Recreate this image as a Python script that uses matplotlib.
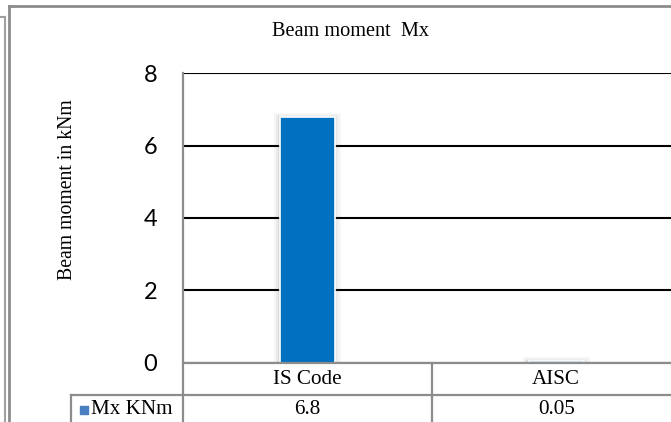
import numpy as np
import matplotlib
matplotlib.use("Agg")
import matplotlib.pyplot as plt
from matplotlib.lines import Line2D
from matplotlib.transforms import blended_transform_factory

# data
categories = ["IS Code", "AISC"]
mx_values = [6.8, 0.05]
series_name = "Mx KNm"
value_labels = ["6.8", "0.05"]
y_ticks = [0, 2, 4, 6, 8]

W, H = 671, 422
fig = plt.figure(figsize=(W / 100, H / 100), dpi=100)
fig.patch.set_facecolor("white")

def fx(px):
    return px / W

def fy(py):
    return 1 - py / H

gray = "#8c8c8c"

# plot area (runs off the right edge like the original)
ax = fig.add_axes([fx(182.7), fy(362.7), (680.7 - 182.7) / W, (362.7 - 73.3) / H])
ax.set_facecolor("none")
x = np.arange(len(categories))

# soft shadow under the bars
for grow, a in [(0.05, 0.05), (0.03, 0.08), (0.015, 0.12)]:
    ax.bar(x, np.array(mx_values) + grow * 2, width=0.22 + grow, color="#606060",
           alpha=a, linewidth=0, zorder=2)
ax.bar(x, mx_values, width=0.22, color="#0070C0", edgecolor="white",
       linewidth=1.2, zorder=3)

ax.set_xlim(-0.5, len(categories) - 0.5)
ax.set_ylim(0, 8)
ax.set_yticks(y_ticks)
ax.set_yticklabels([str(t) for t in y_ticks], fontfamily="Lato", fontsize=17)
ax.tick_params(axis="y", length=0, pad=18.5)
ax.set_xticks([])
for s in ax.spines.values():
    s.set_visible(False)
ax.yaxis.grid(True, color="black", linewidth=1.5)
ax.set_axisbelow(True)

# title and y label
fig.text(fx(351), fy(32), "Beam moment  Mx", ha="center", va="center",
         fontfamily="Liberation Serif", fontsize=14.6)
fig.text(fx(67), fy(190), "Beam moment in kNm", ha="center", va="center",
         rotation=90, fontfamily="Liberation Serif", fontsize=14.2)

# data table below the axis
tr = blended_transform_factory(ax.transData, fig.transFigure)
for i, cat in enumerate(categories):
    fig.text(x[i], fy(379), cat, transform=tr, ha="center",
             va="center", fontfamily="Liberation Serif", fontsize=15.2)
    fig.text(x[i], fy(410), value_labels[i], transform=tr,
             ha="center", va="center", fontfamily="Liberation Serif",
             fontsize=15.2)
fig.text(fx(91), fy(410), series_name, ha="left", va="center",
         fontfamily="Liberation Serif", fontsize=15.2)
fig.patches.append(plt.Rectangle((fx(80), fy(414)), 8 / W, 8 / H,
                                 transform=fig.transFigure, color="#4a7fc1",
                                 figure=fig))

def hline(y, x0, x1, lw=1.6, c=gray):
    fig.add_artist(Line2D([fx(x0), fx(x1)], [fy(y), fy(y)], color=c, lw=lw))

def vline(xp, y0, y1, lw=1.6, c=gray):
    fig.add_artist(Line2D([fx(xp), fx(xp)], [fy(y0), fy(y1)], color=c, lw=lw))

hline(362.7, 182.7, 671)
hline(395, 71, 671)
vline(182.7, 73.3, 422)
vline(431.7, 362.7, 422)
vline(71, 395, 422)

# outer chart frames
hline(5.5, 9, 671, lw=2)
vline(9, 5.5, 422, lw=2)
vline(5, 17, 422, lw=1.5, c="#a0a0a0")
hline(17, 0, 5, lw=1.5, c="#a0a0a0")

fig.savefig("out.png", dpi=100)
